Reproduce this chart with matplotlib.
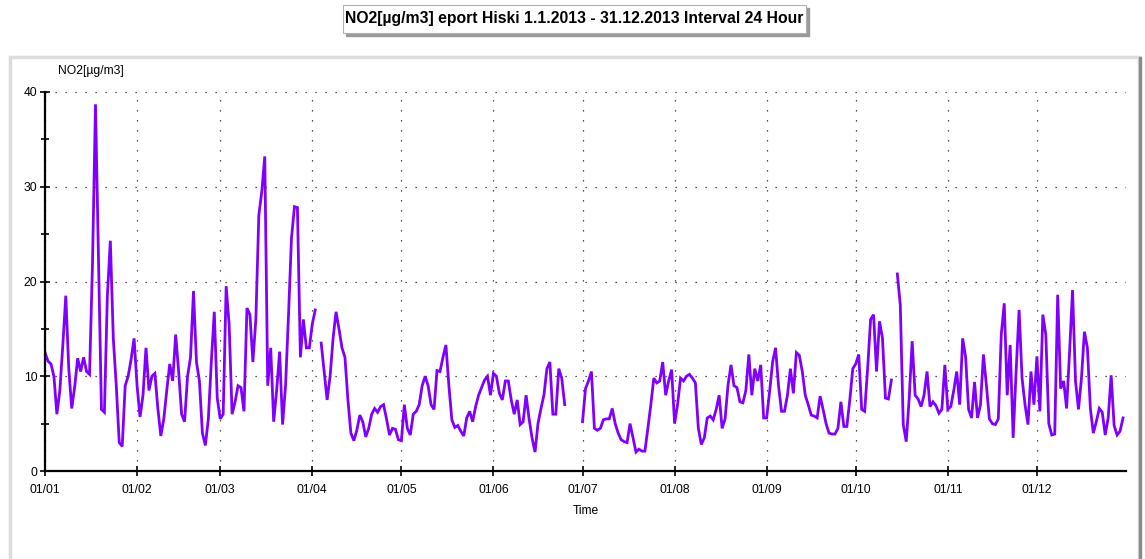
import numpy as np
import pandas as pd
import matplotlib
matplotlib.use("Agg")
import matplotlib.pyplot as plt
import matplotlib.dates as mdates
from matplotlib.patches import Rectangle
from matplotlib.ticker import MultipleLocator

nan = np.nan

# daily NO2 means [µg/m3], one list per month (NaN = missing day)
jan = [12.5, 11.6, 11.3, 10.0, 6.0, 8.5, 13.3, 18.5, 10.8, 6.6, 8.9, 11.9, 10.5, 12.0, 10.5, 10.2,
       22.0, 38.7, 22.5, 6.5, 6.2, 18.5, 24.3, 14.0, 9.0, 3.0, 2.6, 9.0, 10.0, 11.8, 14.0]
feb = [9.0, 5.7, 8.0, 13.0, 8.5, 10.0, 10.3, 6.6, 3.7, 5.5, 8.5, 11.3, 9.5, 14.4, 10.5, 6.0,
       5.2, 10.0, 12.0, 19.0, 11.5, 9.5, 4.0, 2.7, 5.5, 11.5, 16.8, 7.7]
mar = [5.5, 6.0, 19.5, 15.5, 6.0, 7.3, 9.0, 8.8, 6.3, 17.2, 16.5, 11.5, 16.0, 27.0, 29.5, 33.2,
       9.0, 13.0, 5.2, 8.5, 12.6, 4.9, 9.0, 16.5, 24.6, 27.9, 27.8, 12.0, 16.0, 13.0, 13.0]
apr = [15.5, 17.0, nan, 13.5, 10.5, 7.5, 10.0, 14.0, 16.8, 15.0, 13.0, 12.0, 7.5, 4.0, 3.2, 4.3,
       5.9, 5.2, 3.6, 4.5, 6.0, 6.6, 6.2, 6.8, 7.0, 5.5, 3.8, 4.5, 4.4, 3.3]
may = [3.2, 7.0, 4.5, 3.8, 6.0, 6.3, 7.0, 9.0, 10.0, 9.0, 7.0, 6.5, 10.6, 10.5, 12.0, 13.3,
       9.0, 5.4, 4.6, 4.8, 4.2, 3.7, 5.6, 6.3, 5.2, 6.8, 8.0, 8.8, 9.6, 10.0, 8.0]
jun = [10.3, 10.0, 8.2, 7.5, 9.5, 9.5, 7.5, 6.0, 7.5, 4.9, 5.2, 8.0, 5.5, 3.5, 2.0, 5.0,
       6.6, 8.0, 10.8, 11.5, 6.0, 6.0, 10.8, 9.8, 7.0, nan, nan, nan, nan, nan]
jul = [5.2, 8.7, 9.5, 10.5, 4.5, 4.3, 4.5, 5.4, 5.5, 5.5, 6.6, 5.0, 4.0, 3.3, 3.1, 3.0,
       5.0, 3.5, 2.0, 2.3, 2.1, 2.1, 4.5, 7.0, 9.8, 9.3, 9.5, 11.5, 8.0, 9.5, 10.7]
aug = [5.0, 7.0, 9.8, 9.5, 10.0, 10.2, 9.8, 9.3, 4.5, 2.8, 3.5, 5.6, 5.8, 5.4, 6.5, 8.0,
       4.5, 5.5, 9.1, 11.2, 9.0, 8.8, 7.3, 7.2, 8.5, 12.3, 8.0, 10.8, 9.5, 11.2, 5.6]
sep = [5.6, 8.4, 11.5, 13.0, 9.0, 6.3, 6.3, 8.0, 10.8, 8.2, 12.5, 12.2, 10.5, 8.0, 7.0, 5.9,
       5.8, 5.6, 7.9, 6.5, 5.0, 4.0, 3.9, 3.9, 4.5, 7.3, 4.7, 4.7, 7.5, 10.8]
oct_ = [11.3, 12.3, 6.5, 6.3, 10.8, 16.0, 16.5, 10.5, 15.8, 14.0, 7.7, 7.6, 9.6, nan, 20.8, 17.5,
        4.9, 3.1, 7.7, 13.7, 8.0, 7.6, 6.8, 8.0, 10.5, 6.8, 7.3, 6.9, 6.1, 6.5, 11.2]
nov = [6.5, 6.8, 8.5, 10.5, 7.0, 14.0, 12.0, 6.5, 5.6, 9.4, 5.6, 7.0, 12.3, 9.0, 5.5, 5.0,
       4.9, 5.5, 14.4, 17.7, 8.0, 13.3, 3.5, 10.5, 17.0, 9.8, 7.0, 4.9, 10.5, 7.0]
dec = [12.1, 6.3, 16.5, 14.4, 5.0, 3.8, 3.9, 18.6, 8.7, 9.5, 6.6, 12.6, 19.1, 9.5, 6.5, 9.8,
       14.7, 13.0, 6.6, 4.0, 5.2, 6.6, 6.2, 3.8, 5.6, 10.1, 4.8, 3.8, 4.2, 5.6, nan]

values = jan + feb + mar + apr + may + jun + jul + aug + sep + oct_ + nov + dec
dates = pd.date_range("2013-01-01", "2013-12-31", freq="D")

title = "NO2[µg/m3] eport Hiski 1.1.2013 - 31.12.2013 Interval 24 Hour"
y_label = "NO2[µg/m3]"
x_label = "Time"

W, H = 1145, 559
plt.rcParams["font.family"] = ["Liberation Sans", "DejaVu Sans"]

fig = plt.figure(figsize=(W / 100, H / 100), dpi=100)

# outer panel frame
fig.patches.append(Rectangle((10 / W, -0.01), 1129 / W, (H - 57) / H + 0.01,
                             transform=fig.transFigure, fill=False,
                             edgecolor="#dcdcdc", lw=2.5, zorder=0))
fig.patches.append(Rectangle((1139 / W, -0.01), 2 / W, (H - 57) / H + 0.01,
                             transform=fig.transFigure, color="#8a8a8a", zorder=0))

# title box with shadow
fig.patches.append(Rectangle((346 / W, 1 - 36 / H), 463 / W, 28 / H,
                             transform=fig.transFigure, color="#9a9a9a", zorder=1))
fig.patches.append(Rectangle((343 / W, 1 - 33 / H), 463 / W, 28 / H,
                             transform=fig.transFigure, facecolor="white",
                             edgecolor="#b0b0b0", lw=0.8, zorder=2))
fig.text(574.5 / W, 1 - 19 / H, title, ha="center", va="center",
         fontsize=11.3, fontweight="bold", zorder=3)

ax = fig.add_axes([45 / W, 1 - 471 / H, (1126 - 45) / W, (471 - 92) / H])
ax.plot(dates, values, color="#8000ff", lw=2.0, solid_joinstyle="miter")

ax.set_xlim(dates[0], dates[-1])
ax.set_ylim(0, 40)
ax.yaxis.set_major_locator(MultipleLocator(10))
ax.yaxis.set_minor_locator(MultipleLocator(5))
ax.xaxis.set_major_locator(mdates.MonthLocator())
ax.xaxis.set_major_formatter(mdates.DateFormatter("%d/%m"))

ax.grid(True, which="major", color="#202020", linestyle=(0, (1, 7)), linewidth=0.9)
for s in ("top", "right"):
    ax.spines[s].set_visible(False)
for s in ("left", "bottom"):
    ax.spines[s].set_linewidth(1.6)

ax.tick_params(axis="both", which="major", direction="inout", length=7, width=1.2,
               labelsize=8.7, pad=2)
ax.tick_params(axis="y", which="minor", direction="inout", length=6, width=1.2)
ax.tick_params(axis="x", pad=6)

ax.set_xlabel(x_label, fontsize=8.7, labelpad=6)
fig.text(58 / W, 1 - 71 / H, y_label, ha="left", va="center", fontsize=8.7)

fig.savefig("out.png", dpi=100)
